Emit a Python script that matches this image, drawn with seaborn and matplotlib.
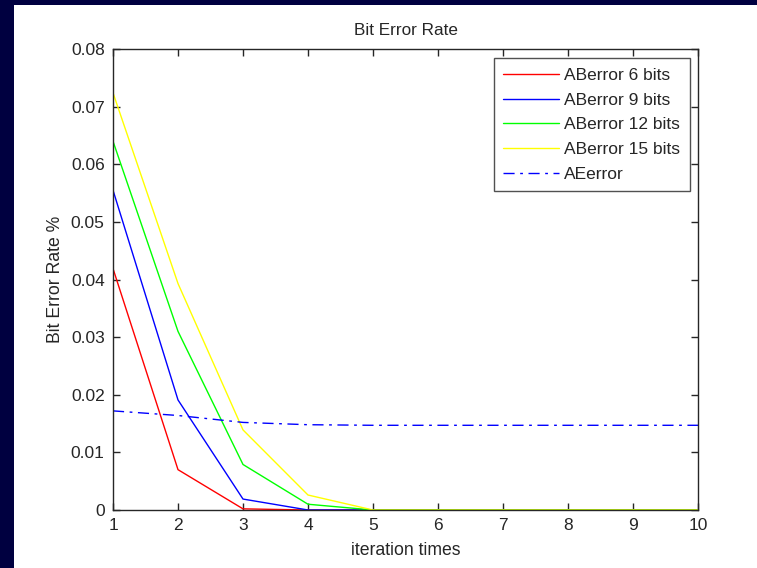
import numpy as np
import pandas as pd
import matplotlib
matplotlib.use("Agg")
import matplotlib.pyplot as plt
import seaborn as sns
from matplotlib.patches import Rectangle

iterations = [1, 2, 3, 4, 5, 6, 7, 8, 9, 10]
ab6 = [0.0419, 0.0070, 0.0002, 0.0, 0.0, 0.0, 0.0, 0.0, 0.0, 0.0]
ab9 = [0.0555, 0.0191, 0.0019, 0.0, 0.0, 0.0, 0.0, 0.0, 0.0, 0.0]
ab12 = [0.0640, 0.0310, 0.0079, 0.0010, 0.0, 0.0, 0.0, 0.0, 0.0, 0.0]
ab15 = [0.0724, 0.0393, 0.0139, 0.0026, 0.0, 0.0, 0.0, 0.0, 0.0, 0.0]
aeerror = [0.0172, 0.0164, 0.0152, 0.0148, 0.0147, 0.0147, 0.0147, 0.0147, 0.0147, 0.0147]
names = ["ABerror 6 bits", "ABerror 9 bits", "ABerror 12 bits", "ABerror 15 bits", "AEerror"]
xticks = [1, 2, 3, 4, 5, 6, 7, 8, 9, 10]
yticks = [0, 0.01, 0.02, 0.03, 0.04, 0.05, 0.06, 0.07, 0.08]
yticklabels = ["0", "0.01", "0.02", "0.03", "0.04", "0.05", "0.06", "0.07", "0.08"]

rows = []
for name, vals in zip(names, [ab6, ab9, ab12, ab15, aeerror]):
    for x, v in zip(iterations, vals):
        rows.append({"iter": x, "val": v, "series": name})
df = pd.DataFrame(rows)

sns.set_style("white")
plt.rcParams["font.family"] = ["Liberation Sans", "DejaVu Sans"]

fig = plt.figure(figsize=(7.57, 5.68), dpi=100, facecolor="white")
# navy frame strips
fig.patches.append(Rectangle((0, 0), 14 / 757, 1, transform=fig.transFigure,
                             facecolor="#000040", edgecolor="none", zorder=0))
fig.patches.append(Rectangle((0, 1 - 5 / 568), 1, 5 / 568, transform=fig.transFigure,
                             facecolor="#000040", edgecolor="none", zorder=0))

ax = fig.add_axes([113 / 757, 1 - 510 / 568, (698 - 113) / 757, (510 - 49) / 568])

palette = {names[0]: "#ff0000", names[1]: "#0000ff", names[2]: "#00ff00",
           names[3]: "#ffff00", names[4]: "#0000ff"}
dashes = {names[0]: "", names[1]: "", names[2]: "", names[3]: "",
          names[4]: (8, 4, 2, 4)}
sns.lineplot(data=df, x="iter", y="val", hue="series", style="series",
             hue_order=names, style_order=names, palette=palette, dashes=dashes,
             linewidth=1.0, ax=ax, legend=True)

ax.set_xlim(1, 10)
ax.set_ylim(0, 0.08)
ax.set_xticks(xticks)
ax.set_xticklabels([str(t) for t in xticks])
ax.set_yticks(yticks)
ax.set_yticklabels(yticklabels)
axcol = "#262626"
for s in ax.spines.values():
    s.set_visible(True)
    s.set_color(axcol)
    s.set_linewidth(1.0)
ax.tick_params(direction="in", length=5, width=1, color=axcol, labelcolor=axcol,
               labelsize=12.5, top=True, right=True, bottom=True, left=True, pad=6)
ax.set_title("Bit Error Rate", fontsize=12.3, color="#262626", pad=10)
ax.set_xlabel("iteration times", fontsize=12.7, color="#262626", labelpad=6)
ax.set_ylabel("Bit Error Rate %", fontsize=12.7, color="#262626", labelpad=5)

leg = ax.legend(loc="upper right", fontsize=12.5, frameon=True, fancybox=False,
                handlelength=3.2, handletextpad=0.3, borderpad=0.55, labelspacing=0.55,
                borderaxespad=0.0, bbox_to_anchor=(0.986, 0.980))
leg.get_frame().set_edgecolor(axcol)
leg.get_frame().set_linewidth(1.0)
for t in leg.get_texts():
    t.set_color("#262626")
for l in leg.get_lines():
    l.set_linewidth(1.0)

fig.savefig("out.png", dpi=100, facecolor="white")
